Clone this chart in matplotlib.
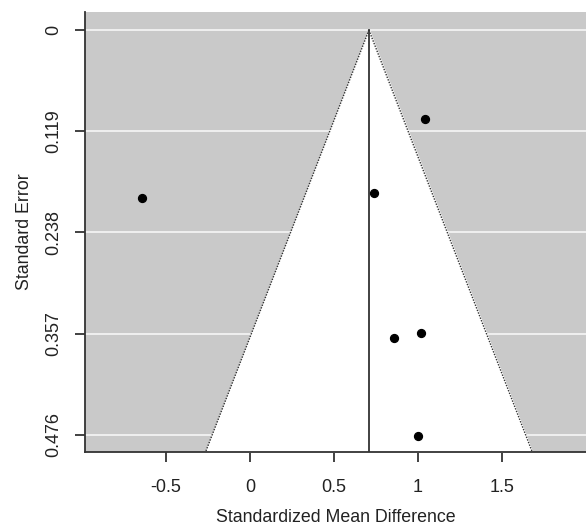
import matplotlib
matplotlib.use("Agg")
import matplotlib.pyplot as plt
import numpy as np

plt.rcParams['font.family'] = ['Liberation Sans', 'DejaVu Sans']

# study effects (SMD) and standard errors
smd = [-0.64, 1.04, 0.74, 0.86, 1.02, 1.00]
se = [0.198, 0.105, 0.192, 0.362, 0.356, 0.477]
center = 0.708
yticks = [0, 0.119, 0.238, 0.357, 0.476]
xticks = [-0.5, 0, 0.5, 1, 1.5]

fig = plt.figure(figsize=(5.86, 5.28), dpi=100)
ax = fig.add_axes([0.145, 0.144, 0.855, 0.833])

xmin, xmax = -0.982, 2.0
ymin, ymax = -0.021, 0.496

ax.set_facecolor("#c9c9c9")
for t in yticks:
    ax.axhline(t, color="#f2f2f2", lw=1.3, zorder=1)

# funnel region
se_line = np.array([0, ymax])
ax.fill_betweenx(se_line, center - 1.96 * se_line, center + 1.96 * se_line,
                 color="white", zorder=2)
ax.plot(center - 1.96 * se_line, se_line, color="#333333", ls=(0, (1, 1)), lw=1, zorder=3)
ax.plot(center + 1.96 * se_line, se_line, color="#333333", ls=(0, (1, 1)), lw=1, zorder=3)
ax.plot([center, center], [0, ymax], color="#333333", lw=1.3, zorder=3)

ax.scatter(smd, se, s=32, color="black", zorder=4)

ax.set_xlim(xmin, xmax)
ax.set_ylim(ymax, ymin)
ax.set_xticks(xticks)
ax.set_xticklabels(["-0.5", "0", "0.5", "1", "1.5"])
ax.set_yticks(yticks)
ax.set_yticklabels(["0", "0.119", "0.238", "0.357", "0.476"], rotation=90, va="center")
ax.tick_params(axis="both", length=7.5, width=1.3, color="#333333", labelsize=13,
               labelcolor="#222222")
ax.tick_params(axis="y", pad=9)
ax.tick_params(axis="x", pad=12)

for s in ["top", "right"]:
    ax.spines[s].set_visible(False)
for s in ["left", "bottom"]:
    ax.spines[s].set_color("#333333")
    ax.spines[s].set_linewidth(1.3)

ax.set_xlabel("Standardized Mean Difference", fontsize=12.8, color="#222222", labelpad=9)
ax.set_ylabel("Standard Error", fontsize=12.8, color="#222222", labelpad=9)

fig.savefig("out.png", dpi=100)
